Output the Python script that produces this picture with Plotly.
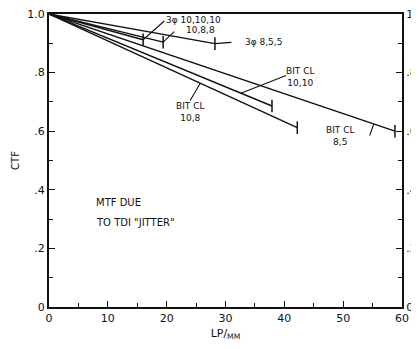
import numpy as np
import plotly.graph_objects as go

# ---- data ----
series_names = ["3φ 10,10,10", "3φ 10,8,8", "3φ 8,5,5", "BIT CL 10,10", "BIT CL 10,8", "BIT CL 8,5"]
lp_start = [0, 0, 0, 0, 0, 0]
ctf_start = [1.0, 1.0, 1.0, 1.0, 1.0, 1.0]
lp_end = [16.0, 19.4, 28.2, 37.9, 42.2, 58.8]
ctf_end = [0.912, 0.904, 0.899, 0.686, 0.612, 0.600]

x_ticks = [0, 10, 20, 30, 40, 50, 60]
x_tick_labels = ["0", "10", "20", "30", "40", "50", "60"]
y_ticks = [0, 0.2, 0.4, 0.6, 0.8, 1.0]
y_tick_labels = ["0", ".2", ".4", ".6", ".8", "1.0"]

FONT = "DejaVu Sans"
INK = "#111111"

fig = go.Figure()

for i, name in enumerate(series_names):
    xs = [lp_start[i], lp_end[i]]
    ys = [ctf_start[i], ctf_end[i]]
    fig.add_trace(go.Scatter(x=xs, y=ys, mode="lines", name=name,
                             line=dict(color=INK, width=1.4), showlegend=False))

# end ticks
fig.add_trace(go.Scatter(x=lp_end, y=ctf_end, mode="markers", showlegend=False,
                         marker=dict(symbol="line-ns-open", size=9, color=INK,
                                     line=dict(color=INK, width=1.5))))

# invisible trace to activate the right axis
fig.add_trace(go.Scatter(x=[0], y=[0], yaxis="y2", mode="markers",
                         marker=dict(opacity=0, color=INK), showlegend=False, hoverinfo="skip"))


def on_line(i, lp):
    return float(np.interp(lp, [lp_start[i], lp_end[i]], [ctf_start[i], ctf_end[i]]))


# labels: (text, x, y)
labels = [
    ("3φ 10,10,10", 24.6, 0.978),
    ("10,8,8", 25.8, 0.945),
    ("3φ 8,5,5", 36.4, 0.903),
    ("BIT CL<br>10,10", 42.7, 0.785),
    ("BIT CL<br>10,8", 24.0, 0.666),
    ("BIT CL<br>8,5", 49.5, 0.584),
]
for t, x, y in labels:
    fig.add_annotation(text=t, x=x, y=y, xref="x", yref="y", showarrow=False,
                       xanchor="center", yanchor="middle",
                       font=dict(family=FONT, size=9, color=INK))

# leader lines: (series index, lp on the line, tail x, tail y)
leaders = [
    (0, lp_end[0], 19.6, 0.976),
    (1, lp_end[1], 21.3, 0.94),
    (2, lp_end[2], 31.0, 0.903),
    (3, 32.6, 40.3, 0.79),
    (4, 25.7, 24.0, 0.705),
    (5, 55.2, 54.5, 0.585),
]
for i, lp, tx, ty in leaders:
    fig.add_shape(type="line", xref="x", yref="y", x0=tx, y0=ty, x1=lp, y1=on_line(i, lp),
                  line=dict(color=INK, width=1.1))

fig.add_annotation(text="MTF DUE", x=7.6, y=0.357, xref="x", yref="y", showarrow=False,
                   xanchor="left", font=dict(family=FONT, size=10, color=INK))
fig.add_annotation(text="TO TDI \"JITTER\"", x=7.6, y=0.29, xref="x", yref="y", showarrow=False,
                   xanchor="left", font=dict(family=FONT, size=10, color=INK))

axis_common = dict(showgrid=False, zeroline=False, showline=True, linecolor=INK, linewidth=2,
                   ticks="inside", ticklen=6, tickwidth=1.3, tickcolor=INK, automargin=False,
                   tickfont=dict(size=11), ticklabeloverflow="allow")

# the page body has an 8px margin, so the figure is sized to fit inside the window
fig.update_layout(
    width=411, height=333,
    margin=dict(l=41, r=17, t=6, b=34),
    paper_bgcolor="white", plot_bgcolor="white",
    font=dict(family=FONT, size=11, color=INK),
    xaxis=dict(range=[0, 60], tickvals=x_ticks, ticktext=x_tick_labels, mirror=True,
               minor=dict(ticks="inside", ticklen=4, tickwidth=1, tickcolor=INK, dtick=5),
               title=dict(text="LP/<sub>MM</sub>", standoff=8, font=dict(size=11)),
               **axis_common),
    yaxis=dict(range=[0, 1.0], tickvals=y_ticks, ticktext=y_tick_labels,
               minor=dict(ticks="inside", ticklen=4, tickwidth=1, tickcolor=INK, dtick=0.1),
               title=dict(text="CTF", standoff=6, font=dict(size=10)),
               **axis_common),
    yaxis2=dict(range=[0, 1.0], overlaying="y", side="right", tickvals=y_ticks,
                ticktext=y_tick_labels,
                minor=dict(ticks="inside", ticklen=4, tickwidth=1, tickcolor=INK, dtick=0.1),
                **axis_common),
)

fig.write_html("out.html")
